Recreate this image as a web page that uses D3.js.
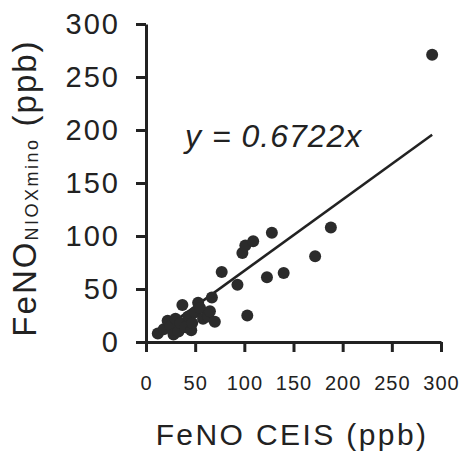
<!DOCTYPE html>
<html>
<head>
<meta charset="utf-8">
<script src="https://cdn.jsdelivr.net/npm/d3@7"></script>
<style>
  body{margin:0;background:#fff;}
  text{font-family:"Liberation Sans",Arial,sans-serif;fill:#222;}
</style>
</head>
<body>
<div id="viz-container"></div>
<script>
// FeNO CEIS (x) vs FeNO NIOX mino (y), ppb
let ceis = [12,18,22,25,28,30,33,35,37,40,43,46,47,50,53,55,58,63,65,67,70,77,93,98,101,103,109,123,128,140,172,188,291];
let niox = [8,12,20,15,7,22,10,18,35,14,24,11,18,28,37,32,22,24,29,42,19,66,54,84,91,25,95,61,103,65,81,108,271];

let slope = 0.6722;
let fitRange = [10,291];
let ticks = [0,50,100,150,200,250,300];

let svg = d3.select('#viz-container')
  .append('svg')
    .attr('width',462)
    .attr('height',458);

let x = d3.scaleLinear().domain([0,300]).range([146,441]);
let y = d3.scaleLinear().domain([0,300]).range([342,24]);

//x axis
let xAxis = svg.append('g')
  .attr('transform','translate(0,'+y(0)+')')
  .call(d3.axisBottom(x).tickValues(ticks).tickSize(10).tickSizeOuter(0).tickPadding(24));

//y axis
let yAxis = svg.append('g')
  .attr('transform','translate('+x(0)+',0)')
  .call(d3.axisLeft(y).tickValues(ticks).tickSize(10).tickSizeOuter(0).tickPadding(18));

svg.selectAll('.domain, .tick line')
  .attr('stroke','#222')
  .attr('stroke-width',3);

xAxis.selectAll('text')
  .attr('font-size',20)
  .attr('letter-spacing',1)
  .attr('fill','#222');

yAxis.selectAll('text')
  .attr('font-size',29)
  .attr('letter-spacing',2)
  .attr('dx',2)
  .attr('fill','#222');

//fit line
svg.append('line')
  .attr('x1',x(fitRange[0]))
  .attr('y1',y(fitRange[0]*slope))
  .attr('x2',x(fitRange[1]))
  .attr('y2',y(fitRange[1]*slope))
  .attr('stroke','#222')
  .attr('stroke-width',2.5);

//points
svg.selectAll('.dot').data(ceis).enter()
  .append('circle')
    .attr('class','dot')
    .attr('cx',function(d){return x(d);})
    .attr('cy',function(d,i){return y(niox[i]);})
    .attr('r',6)
    .attr('fill','#2b2b2b');

//equation
svg.append('text')
  .attr('x',185)
  .attr('y',147)
  .attr('font-size',32)
  .attr('font-style','italic')
  .attr('letter-spacing',1)
  .text('y = ' + slope + 'x');

//x title
svg.append('text')
  .attr('x',292)
  .attr('y',445)
  .attr('text-anchor','middle')
  .attr('font-size',30)
  .attr('letter-spacing',2.4)
  .text('FeNO CEIS (ppb)');

//y title
let yt = svg.append('text')
  .attr('transform','translate(36,188) rotate(-90)')
  .attr('text-anchor','middle')
  .attr('font-size',33)
  .attr('letter-spacing',2)
  .text('FeNO');
yt.append('tspan').attr('font-size',18).attr('letter-spacing',2.5).attr('dy',2).text('NIOXmino');
yt.append('tspan').attr('dy',-2).text(' (ppb)');
</script>
</body>
</html>
